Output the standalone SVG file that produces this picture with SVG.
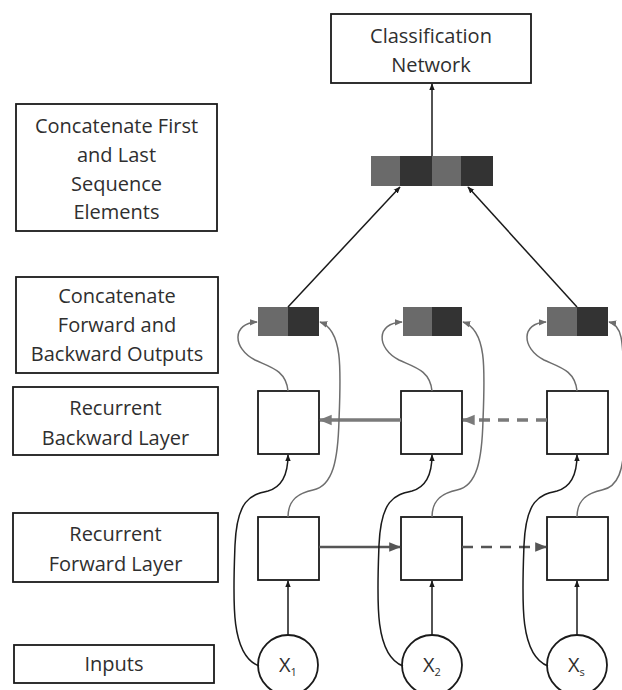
<svg xmlns="http://www.w3.org/2000/svg" width="622" height="690" viewBox="0 0 622 690">
<style>
.lbl{fill:#fff;stroke:#1a1a1a;stroke-width:1.8}
.cell{fill:#fff;stroke:#1a1a1a;stroke-width:1.8}
.t{font-family:"Open Sans","Noto Sans",sans-serif;font-size:20px;fill:#2f2f2f;text-anchor:middle;dominant-baseline:central}
.x{font-family:"Open Sans","Noto Sans",sans-serif;font-size:20px;fill:#2f2f2f}
.sub{font-size:11px}
.lt{fill:#6a6a6a}
.dk{fill:#333}
.blk{fill:none;stroke:#1a1a1a;stroke-width:1.5}
.gry{fill:none;stroke:#6e6e6e;stroke-width:1.5}
.fw{fill:none;stroke:#555;stroke-width:2.6}
.bw{fill:none;stroke:#7a7a7a;stroke-width:3.4}
.dash{stroke-dasharray:11 8}
</style>
<defs>
<marker id="ab" viewBox="0 0 10 10" refX="9" refY="5" markerWidth="7" markerHeight="7" orient="auto" markerUnits="userSpaceOnUse"><path d="M0,1 L10,5 L0,9 z" fill="#1a1a1a"/></marker>
<marker id="ag" viewBox="0 0 10 10" refX="9" refY="5" markerWidth="8" markerHeight="8" orient="auto" markerUnits="userSpaceOnUse"><path d="M0,1 L10,5 L0,9 z" fill="#6e6e6e"/></marker>
<marker id="af" viewBox="0 0 10 10" refX="9" refY="5" markerWidth="12" markerHeight="12" orient="auto" markerUnits="userSpaceOnUse"><path d="M0,1 L10,5 L0,9 z" fill="#555"/></marker>
<marker id="abw" viewBox="0 0 10 10" refX="9" refY="5" markerWidth="13" markerHeight="13" orient="auto" markerUnits="userSpaceOnUse"><path d="M0,1 L10,5 L0,9 z" fill="#7a7a7a"/></marker>
</defs>
<rect width="622" height="690" fill="#fff"/>

<!-- label boxes -->
<g id="lbl-concat-first">
<rect class="lbl" x="16" y="104" width="201" height="127"/>
<text class="t" x="116.5" y="125">Concatenate First</text>
<text class="t" x="116.5" y="154">and Last</text>
<text class="t" x="116.5" y="183">Sequence</text>
<text class="t" x="116.5" y="211">Elements</text>
</g>
<g id="lbl-concat-fb">
<rect class="lbl" x="16" y="277" width="202" height="96"/>
<text class="t" x="117" y="295">Concatenate</text>
<text class="t" x="117" y="324">Forward and</text>
<text class="t" x="117" y="353">Backward Outputs</text>
</g>
<g id="lbl-backward">
<rect class="lbl" x="13" y="387" width="205" height="68"/>
<text class="t" x="115.5" y="407">Recurrent</text>
<text class="t" x="115.5" y="437">Backward Layer</text>
</g>
<g id="lbl-forward">
<rect class="lbl" x="13" y="513" width="205" height="69"/>
<text class="t" x="115.5" y="533">Recurrent</text>
<text class="t" x="115.5" y="563">Forward Layer</text>
</g>
<g id="lbl-inputs">
<rect class="lbl" x="14" y="645" width="200" height="38"/>
<text class="t" x="114" y="663">Inputs</text>
</g>

<!-- classification -->
<g id="classification">
<rect class="lbl" x="331" y="14" width="200" height="69"/>
<text class="t" x="431" y="35">Classification</text>
<text class="t" x="431" y="64">Network</text>
</g>

<!-- top concat -->
<g id="concat-top">
<rect class="lt" x="371" y="156" width="29" height="30"/>
<rect class="dk" x="400" y="156" width="32" height="30"/>
<rect class="lt" x="432" y="156" width="29" height="30"/>
<rect class="dk" x="461" y="156" width="32" height="30"/>
</g>

<!-- small concat bars -->
<g id="concat-1"><rect class="lt" x="258" y="307" width="30" height="29"/><rect class="dk" x="288" y="307" width="31" height="29"/></g>
<g id="concat-2"><rect class="lt" x="403" y="307" width="29" height="29"/><rect class="dk" x="432" y="307" width="30" height="29"/></g>
<g id="concat-s"><rect class="lt" x="547" y="307" width="30" height="29"/><rect class="dk" x="577" y="307" width="31" height="29"/></g>

<!-- backward cells -->
<g id="bw-1"><rect class="cell" x="258" y="391" width="61" height="63"/></g>
<g id="bw-2"><rect class="cell" x="401" y="391" width="61" height="63"/></g>
<g id="bw-s"><rect class="cell" x="547" y="391" width="61" height="63"/></g>

<!-- forward cells -->
<g id="fw-1"><rect class="cell" x="258" y="517" width="61" height="63"/></g>
<g id="fw-2"><rect class="cell" x="401" y="517" width="61" height="63"/></g>
<g id="fw-s"><rect class="cell" x="547" y="517" width="61" height="63"/></g>

<!-- inputs -->
<g id="in-1"><circle class="cell" cx="288" cy="665" r="30"/><text class="x" x="279" y="672">X<tspan class="sub" dy="4">1</tspan></text></g>
<g id="in-2"><circle class="cell" cx="432" cy="665" r="30"/><text class="x" x="423" y="672">X<tspan class="sub" dy="4">2</tspan></text></g>
<g id="in-s"><circle class="cell" cx="577" cy="665" r="30"/><text class="x" x="568" y="672">X<tspan class="sub" dy="4">s</tspan></text></g>

<!-- connectors -->
<g id="connectors">
<path class="blk" d="M432,156 L432,84" marker-end="url(#ab)"/>
<path class="blk" d="M288,307 L400,187" marker-end="url(#ab)"/>
<path class="blk" d="M577,307 L468,187" marker-end="url(#ab)"/>

<path class="fw" d="M319,547 L400,547" marker-end="url(#af)"/>
<path class="fw dash" d="M462,547 L546,547" marker-end="url(#af)"/>
<path class="bw" d="M401,420 L320,420" marker-end="url(#abw)"/>
<path class="bw dash" d="M547,420 L463,420" marker-end="url(#abw)"/>

<path class="blk" d="M288,635 L288,581" marker-end="url(#ab)"/>
<path class="blk" d="M432,635 L432,581" marker-end="url(#ab)"/>
<path class="blk" d="M577,635 L577,581" marker-end="url(#ab)"/>

<path class="blk" d="M259,666 C230,655 233,600 235,545 C237,500 250,495 268,491 C282,487 288,475 288,455" marker-end="url(#ab)"/>
<path class="blk" d="M403,666 C374,655 377,600 379,545 C381,500 394,495 412,491 C426,487 432,475 432,455" marker-end="url(#ab)"/>
<path class="blk" d="M548,666 C519,655 522,600 524,545 C526,500 539,495 557,491 C571,487 577,475 577,455" marker-end="url(#ab)"/>

<path class="gry" d="M288,517 C288,500 298,493 313,490 C333,486 338,460 339,420 C341,370 343,330 320,322" marker-end="url(#ag)"/>
<path class="gry" d="M432,517 C432,500 442,493 457,490 C477,486 482,460 483,420 C485,370 487,330 463,322" marker-end="url(#ag)"/>
<path class="gry" d="M577,517 C577,500 587,493 602,490 C618,487 624,470 624,440"/>

<path class="gry" d="M288,391 C286,370 270,367 255,360 C232,348 232,323 257,322" marker-end="url(#ag)"/>
<path class="gry" d="M432,391 C430,370 414,367 399,360 C376,348 376,323 402,322" marker-end="url(#ag)"/>
<path class="gry" d="M577,391 C575,370 559,367 544,360 C521,348 521,323 546,322" marker-end="url(#ag)"/>
<path class="gry" d="M624,380 C623,340 622,325 609,322" marker-end="url(#ag)"/>
</g>
</svg>
